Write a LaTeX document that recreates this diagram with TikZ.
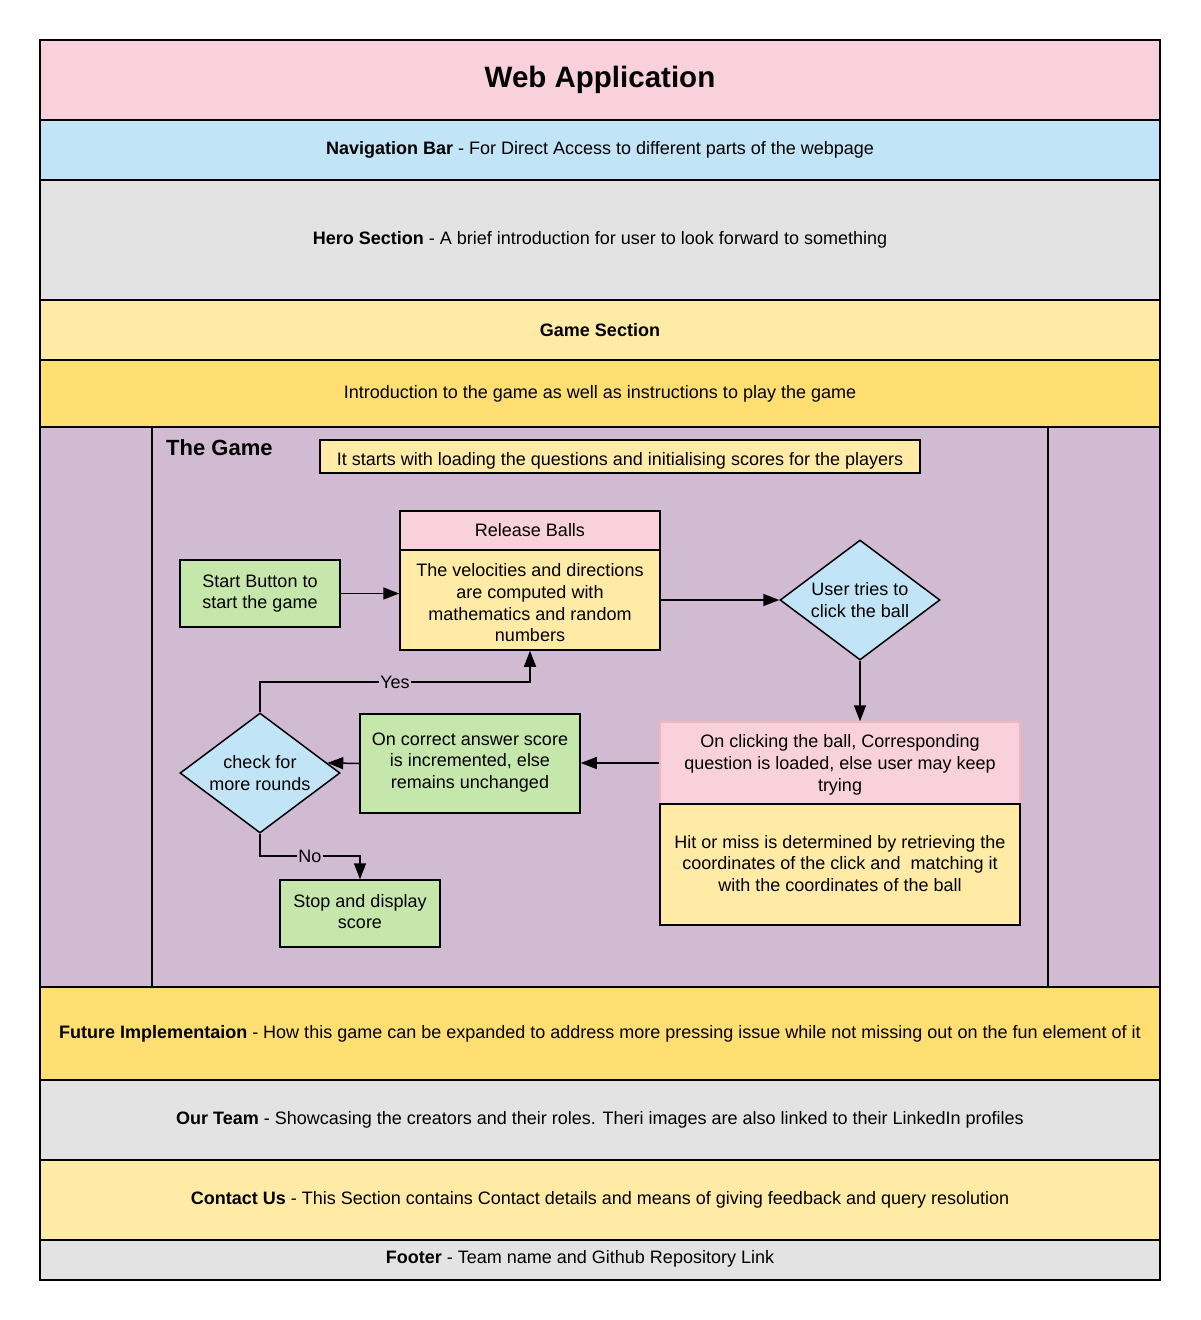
\documentclass[tikz,border=0pt]{standalone}
\usepackage{fontspec}
\setmainfont{Liberation Sans}
\usetikzlibrary{arrows.meta,shapes.geometric,calc}
\definecolor{cpink}{HTML}{F9D1DD}
\definecolor{cpinkline}{HTML}{F7B5B5}
\definecolor{cblue}{HTML}{C1E4F6}
\definecolor{cgray}{HTML}{E3E3E3}
\definecolor{cylight}{HTML}{FFEBA6}
\definecolor{cydark}{HTML}{FFDF71}
\definecolor{cpurple}{HTML}{D1BBD2}
\definecolor{cgreen}{HTML}{C6E7AB}
\newcommand\myfs{\fontsize{18}{21.7}\selectfont}
\begin{document}
\begin{tikzpicture}[x=1pt,y=-1pt,
  band/.style={draw, line width=1.5pt, minimum width=1120pt, inner sep=0pt, font=\myfs, align=center},
  box/.style={draw, line width=1.5pt, inner sep=0pt, font=\myfs, align=center},
  dia/.style={draw, line width=1.5pt, diamond, fill=cblue, minimum width=160pt, minimum height=120pt, inner sep=0pt},
  tx/.style={font=\myfs, align=center, inner sep=0pt},
  arr/.style={line width=1.5pt, -{Triangle[length=16pt,width=12pt]}},
  elbl/.style={font=\myfs, fill=cpurple, inner sep=1pt}
]
\useasboundingbox (0,0) rectangle (1200,1320);
\fill[white] (0,0) rectangle (1200,1320);

% bands
\node[band, fill=cpink, minimum height=80pt] (title) at (600,80) {\fontsize{29.5}{34}\selectfont\bfseries Web Application};
\node[band, fill=cblue, minimum height=60pt] (nav) at (600,150) {\textbf{Navigation Bar} - For Direct Access to different parts of the webpage};
\node[band, fill=cgray, minimum height=120pt] (hero) at (600,240) {\textbf{Hero Section} - A brief introduction for user to look forward to something};
\node[band, fill=cylight, minimum height=60pt] (gamesec) at (600,330) {\textbf{Game Section}};
\node[band, fill=cydark, minimum height=67pt] (intro) at (600,393.5) {Introduction to the game as well as instructions to play the game};
\node[band, fill=cpurple, minimum height=560pt] (purple) at (600,707) {};
\node[draw, line width=1.5pt, minimum width=896pt, minimum height=560pt, inner sep=0pt] (frame) at (600,707) {};
\node[band, fill=cydark, minimum height=93pt] (future) at (600,1033.5) {\textbf{Future Implementaion} - How this game can be expanded to address more pressing issue while not missing out on the fun element of it};
\node[band, fill=cgray, minimum height=80pt] (team) at (600,1120) {\textbf{Our Team} - Showcasing the creators and their roles. Theri images are also linked to their LinkedIn profiles};
\node[band, fill=cylight, minimum height=80pt] (contact) at (600,1200) {\textbf{Contact Us} - This Section contains Contact details and means of giving feedback and query resolution};
\node[band, fill=cgray, minimum height=40pt, label={[tx, xshift=-20pt, yshift=1pt]center:\textbf{Footer} - Team name and Github Repository Link}] (footer) at (600,1260) {};
\draw[line width=1.5pt] (40,40) rectangle (1160,1280);

% game area
\node[anchor=west, font=\fontsize{22}{26}\selectfont\bfseries, inner sep=0pt] (gamelbl) at (166,448) {The Game};
\node[box, fill=cylight, minimum width=600pt, minimum height=33pt, label={[tx, yshift=-4pt]center:It starts with loading the questions and initialising scores for the players}] (starts) at (620,456.5) {};

\node[box, fill=cgreen, minimum width=160pt, minimum height=67pt] (start) at (260,593.5) {Start Button to\\start the game};
\node[box, fill=cpink, minimum width=260pt, minimum height=39pt] (relhead) at (530,530.5) {Release Balls};
\node[box, fill=cylight, minimum width=260pt, minimum height=100pt, label={[tx, yshift=-3pt]center:The velocities and directions\\are computed with\\mathematics and random\\numbers}] (relbody) at (530,600) {};
\node[dia, label={[tx]center:User tries to\\click the ball}] (user) at (860,600) {};
\node[box, draw=cpinkline, fill=cpink, minimum width=360pt, minimum height=82pt, label={[tx, yshift=-2pt]center:On clicking the ball, Corresponding\\question is loaded, else user may keep\\trying}] (click) at (840,763) {};
\node[box, fill=cylight, minimum width=360pt, minimum height=121pt, label={[tx, yshift=1pt]center:Hit or miss is determined by retrieving the\\coordinates of the click and\ \ matching it\\with the coordinates of the ball}] (hit) at (840,864.5) {};
\node[box, fill=cgreen, minimum width=220pt, minimum height=99pt, label={[tx, yshift=1pt]center:On correct answer score\\is incremented, else\\remains unchanged}] (correct) at (470,763.5) {};
\node[dia, label={[tx]center:check for\\more rounds}] (check) at (260,773) {};
\node[box, fill=cgreen, minimum width=160pt, minimum height=67pt, label={[tx, yshift=2pt]center:Stop and display\\score}] (stop) at (360,913.5) {};

\coordinate (ycorner) at (530,682);
\coordinate (ncorner) at (360,856);

% connectors
\draw[arr] (start.east) -- (start.east -| relbody.west);
\draw[arr] (relbody.east) -- (user.west);
\draw[arr] (user.south) -- (user.south |- click.north);
\draw[arr] (click.west) -- (click.west -| correct.east);
\draw[arr] (correct.west) -- ($(check.north)!0.833!(check.east)$);
\draw[arr] (check.north) |- node[elbl, pos=0.75] {Yes} (ycorner) -- (relbody.south);
\draw[arr] (check.south) |- node[elbl, pos=0.75] {No} (ncorner) -- (stop.north);
\end{tikzpicture}
\end{document}
